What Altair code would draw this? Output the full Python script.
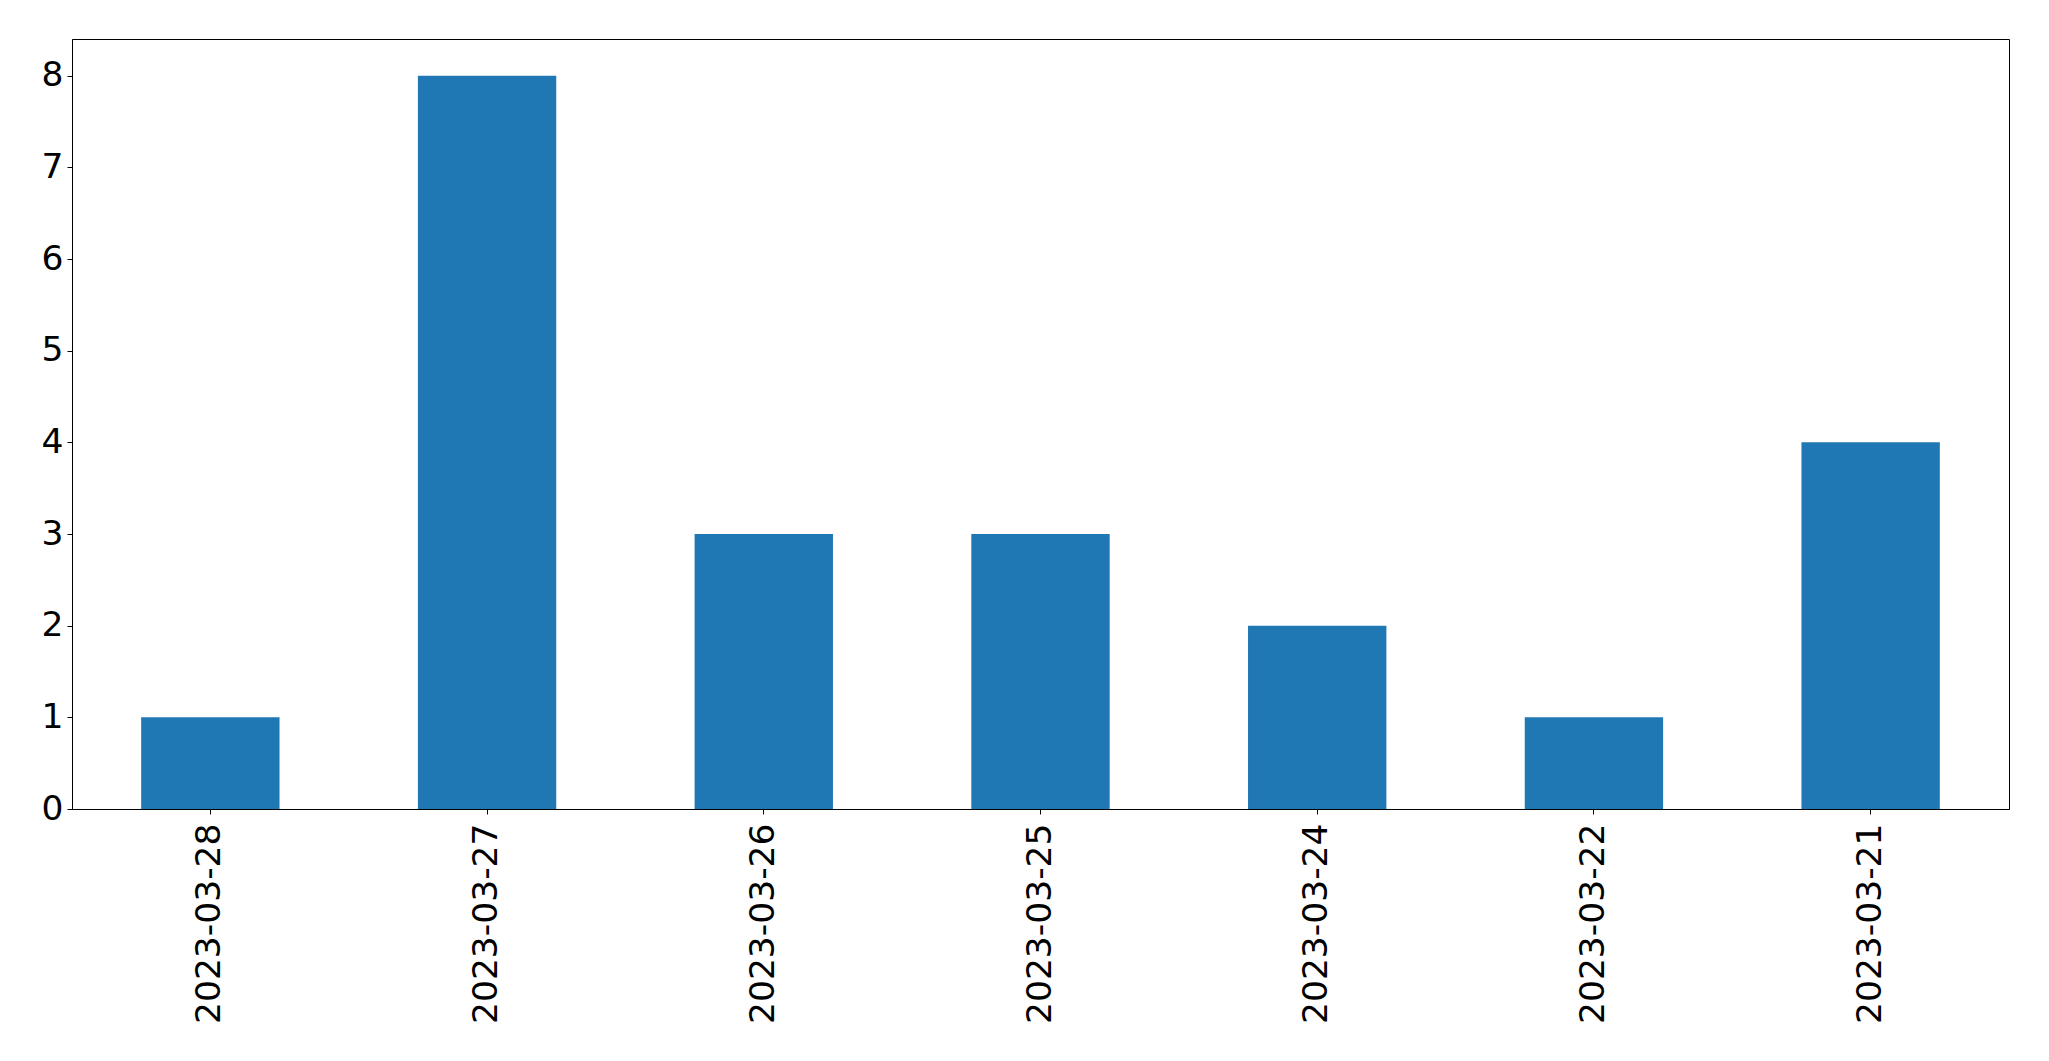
import altair as alt
import pandas as pd

dates = ["2023-03-28", "2023-03-27", "2023-03-26", "2023-03-25", "2023-03-24", "2023-03-22", "2023-03-21"]
counts = [1, 8, 3, 3, 2, 1, 4]
y_ticks = [0, 1, 2, 3, 4, 5, 6, 7, 8]

df = pd.DataFrame({"date": dates, "count": counts})

chart = alt.Chart(df).mark_bar(color="#1f77b4").encode(
    x=alt.X(
        "date:N",
        sort=None,
        title=None,
        scale=alt.Scale(paddingInner=0.5, paddingOuter=0.25),
        axis=alt.Axis(
            labelAngle=-90,
            labelFont="DejaVu Sans",
            labelFontSize=34.5,
            labelColor="black",
            labelPadding=9,
            labelLimit=0,
            tickColor="black",
            tickSize=5,
            domainColor="black",
            grid=False,
        ),
    ),
    y=alt.Y(
        "count:Q",
        title=None,
        scale=alt.Scale(domain=[0, 8.4], nice=False, zero=True),
        axis=alt.Axis(
            values=y_ticks,
            labelFont="DejaVu Sans",
            labelFontSize=34.5,
            labelColor="black",
            labelPadding=4,
            tickColor="black",
            tickSize=5,
            domainColor="black",
            grid=False,
        ),
    ),
).properties(
    width=1937,
    height=770,
    background="white",
    autosize=alt.AutoSizeParams(type="none"),
    padding={"left": 72, "top": 39, "right": 40, "bottom": 252},
).configure_view(
    stroke="black",
    strokeWidth=1,
)

chart.save("out.html", embed_options={"renderer": "svg", "actions": False})
